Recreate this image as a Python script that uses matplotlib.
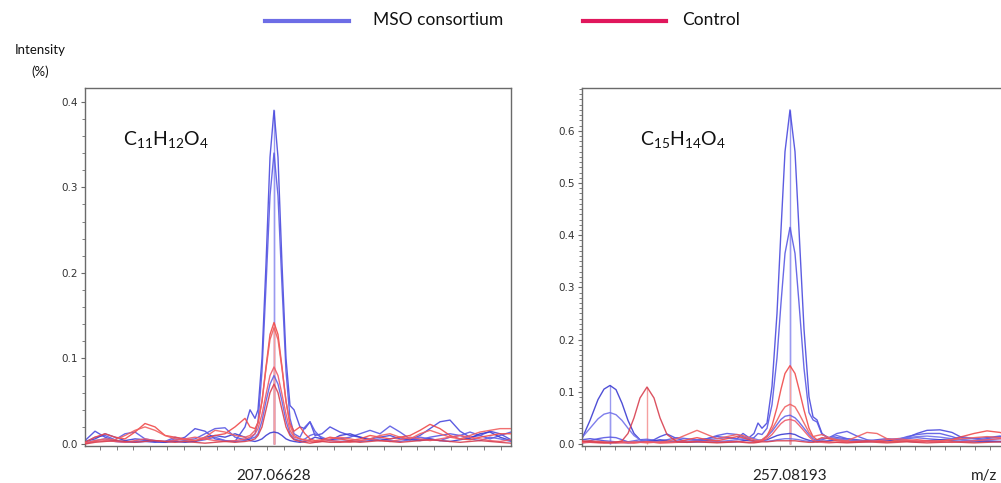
import matplotlib
matplotlib.use("Agg")
import matplotlib.pyplot as plt
from matplotlib.lines import Line2D
from matplotlib.ticker import MultipleLocator, FixedLocator, NullFormatter
import numpy as np

plt.rcParams['mathtext.default'] = 'regular'

# ---------------- data ----------------
series_names = ["MSO consortium", "Control"]
center_labels = ["207.06628", "257.08193"]
formulas = [r"C$_{11}$H$_{12}$O$_4$", r"C$_{15}$H$_{14}$O$_4$"]

# left panel (m/z axis position, arbitrary units)
X_L = [0, 10, 20, 30, 40, 50, 60, 70, 80, 90,
       100, 110, 120, 130, 140, 150, 160, 165, 170, 173,
       177, 181, 185, 189, 193, 197, 201, 205, 209, 215,
       220, 225, 230, 237, 245, 255, 265, 275, 285, 295,
       305, 315, 325, 335, 345, 355, 365, 375, 385, 395,
       405, 415, 426]

BL1 = [.004, .015, .008, .004, .003, .002, .003, .002, .003, .004,
       .008, .018, .015, .006, .004, .003, .02, .04, .03, .04,
       .1, .21, .335, .39, .335, .21, .1, .045, .04, .02,
       .018, .026, .01, .012, .02, .014, .01, .008, .006, .008,
       .01, .006, .005, .01, .018, .026, .028, .015, .008, .01,
       .015, .012, .005]
BL2 = [.002, .008, .01, .005, .012, .014, .006, .004, .003, .008,
       .005, .006, .012, .018, .019, .008, .005, .006, .012, .026,
       .085, .185, .29, .34, .29, .185, .085, .03, .012, .008,
       .02, .026, .015, .006, .005, .006, .008, .012, .016, .012,
       .021, .014, .006, .005, .008, .01, .012, .01, .014, .01,
       .006, .01, .014]
BL3 = [.001, .004, .006, .003, .002, .003, .004, .003, .002, .006,
       .004, .003, .005, .008, .004, .003, .004, .006, .008, .012,
       .027, .05, .07, .08, .07, .05, .027, .012, .006, .004,
       .006, .01, .012, .008, .004, .003, .004, .003, .004, .006,
       .004, .003, .005, .008, .006, .004, .008, .01, .006, .004,
       .008, .006, .003]
BL4 = [.003, .006, .012, .008, .004, .006, .005, .003, .002, .003,
       .002, .003, .008, .01, .008, .012, .008, .004, .003, .004,
       .006, .01, .013, .014, .013, .01, .006, .004, .003, .002,
       .003, .005, .008, .006, .004, .01, .012, .008, .005, .004,
       .006, .008, .005, .004, .006, .004, .003, .005, .007, .012,
       .014, .008, .004]
RL1 = [.002, .008, .012, .008, .006, .014, .024, .02, .01, .008,
       .006, .004, .006, .01, .012, .02, .03, .02, .018, .025,
       .05, .09, .128, .142, .128, .09, .05, .024, .015, .02,
       .012, .006, .004, .005, .008, .006, .004, .006, .01, .008,
       .006, .008, .01, .016, .023, .018, .01, .006, .005, .008,
       .01, .012, .012]
RL2 = [.001, .004, .006, .005, .01, .016, .02, .016, .01, .006,
       .005, .004, .008, .016, .014, .01, .008, .01, .016, .025,
       .05, .088, .122, .136, .122, .088, .05, .022, .01, .006,
       .005, .004, .003, .004, .006, .008, .006, .004, .006, .01,
       .012, .008, .006, .012, .016, .012, .008, .006, .01, .014,
       .016, .018, .018]
RL3 = [.001, .003, .004, .003, .002, .004, .006, .004, .003, .004,
       .006, .008, .006, .004, .003, .004, .006, .008, .012, .018,
       .035, .058, .08, .09, .08, .058, .035, .016, .008, .006,
       .004, .003, .002, .003, .004, .003, .002, .004, .006, .004,
       .003, .005, .008, .006, .004, .006, .008, .01, .008, .006,
       .004, .003, .005]
RL4 = [0, .002, .003, .004, .003, .002, .003, .004, .003, .002,
       .003, .002, .001, .002, .003, .002, .003, .004, .006, .01,
       .02, .04, .06, .07, .06, .04, .02, .01, .005, .003,
       .002, .001, .002, .003, .002, .002, .003, .002, .003, .004,
       .003, .002, .003, .004, .005, .004, .003, .002, .003, .004,
       .003, .002, .001]

# right panel
X_R = [0, 8, 16, 22, 28, 34, 40, 46, 52, 58,
       65, 72, 78, 85, 95, 105, 115, 125, 135, 145,
       155, 161, 167, 172, 176, 180, 185, 190, 195, 199,
       203, 208, 213, 217, 222, 227, 231, 235, 240, 247,
       255, 265, 275, 285, 295, 305, 315, 325, 335, 345,
       358, 370, 380, 392, 405, 418, 430]

BR1 = [.008, .01, .008, .006, .005, .004, .003, .002, .003, .004,
       .005, .008, .014, .019, .01, .005, .006, .01, .014, .012,
       .01, .02, .012, .02, .04, .03, .04, .11, .25, .41,
       .56, .64, .56, .41, .22, .09, .052, .046, .02, .01,
       .012, .01, .008, .006, .008, .01, .008, .012, .02, .026,
       .027, .022, .012, .01, .012, .015, .01]
BR2 = [.004, .006, .01, .012, .013, .012, .008, .004, .003, .004,
       .006, .005, .006, .008, .012, .01, .008, .01, .016, .02,
       .018, .014, .01, .012, .02, .018, .03, .075, .165, .27,
       .365, .415, .365, .27, .145, .06, .046, .042, .018, .012,
       .02, .024, .015, .008, .005, .006, .008, .014, .018, .02,
       .02, .014, .008, .006, .01, .014, .016]
BR3 = [.002, .004, .005, .004, .003, .002, .003, .004, .006, .008,
       .009, .007, .005, .004, .003, .004, .006, .008, .01, .012,
       .01, .008, .006, .005, .006, .008, .014, .024, .037, .047,
       .053, .055, .05, .042, .03, .018, .01, .006, .008, .012,
       .016, .01, .006, .004, .005, .006, .008, .01, .012, .01,
       .008, .01, .014, .01, .006, .005, .006]
BR4 = [.01, .045, .085, .105, .112, .104, .078, .045, .02, .008,
       .004, .006, .008, .006, .004, .003, .004, .006, .005, .004,
       .004, .006, .008, .006, .005, .006, .008, .012, .016, .018,
       .019, .02, .018, .014, .01, .007, .005, .004, .005, .006,
       .008, .006, .004, .005, .006, .007, .006, .005, .004, .006,
       .008, .006, .005, .004, .005, .004, .003]
BR5 = [.012, .03, .048, .057, .06, .056, .045, .03, .016, .008,
       .005, .004, .003, .004, .006, .005, .004, .003, .004, .006,
       .008, .01, .012, .01, .008, .006, .005, .006, .008, .009,
       .01, .01, .009, .008, .006, .005, .006, .008, .01, .012,
       .01, .008, .006, .005, .006, .008, .01, .012, .014, .015,
       .013, .01, .008, .006, .008, .01, .012]
RR1 = [.004, .006, .004, .003, .002, .003, .004, .003, .002, .003,
       .004, .003, .002, .003, .004, .008, .012, .008, .006, .01,
       .014, .012, .008, .005, .004, .006, .015, .035, .07, .105,
       .135, .15, .135, .105, .065, .03, .014, .008, .012, .01,
       .006, .004, .005, .006, .005, .004, .005, .006, .008, .006,
       .005, .008, .014, .02, .025, .022, .014]
RR2 = [.003, .004, .005, .004, .003, .002, .002, .003, .004, .003,
       .002, .003, .004, .005, .01, .018, .026, .018, .01, .014,
       .018, .016, .012, .008, .006, .008, .016, .028, .045, .06,
       .071, .076, .071, .058, .04, .022, .014, .016, .018, .012,
       .008, .006, .014, .022, .02, .01, .006, .005, .004, .005,
       .006, .008, .01, .012, .014, .012, .01]
RR3 = [.002, .003, .002, .002, .003, .004, .003, .002, .002, .003,
       .004, .003, .002, .002, .003, .004, .005, .004, .003, .004,
       .005, .004, .003, .003, .004, .006, .01, .018, .03, .039,
       .045, .047, .044, .036, .025, .014, .007, .004, .003, .002,
       .003, .004, .003, .004, .006, .008, .01, .008, .006, .005,
       .004, .003, .004, .006, .008, .01, .008]
RR4 = [.006, .004, .003, .002, .002, .003, .006, .02, .05, .088,
       .109, .088, .05, .018, .004, .003, .004, .003, .002, .003,
       .004, .003, .002, .002, .003, .004, .004, .005, .006, .006,
       .006, .006, .006, .005, .004, .003, .003, .004, .005, .004,
       .003, .002, .003, .004, .003, .002, .003, .004, .003, .002,
       .003, .004, .003, .002, .003, .004, .003]

# ---------------- styling ----------------
BLUES = ["#4a4ade", "#5a5ae4", "#6262e6", "#3c3cd2", "#7070ea"]
REDS = ["#f04a4a", "#f06060", "#ee5a6a", "#d84050"]
LEGEND_BLUE = "#6d6de6"
LEGEND_RED = "#e0175c"
SPINE = "#6a6a6a"
FONT = ["Lato", "DejaVu Sans"]

W, H = 1001, 483
fig = plt.figure(figsize=(W / 100, H / 100), dpi=100)


def px_axes(x0, y0, x1, y1):
    return fig.add_axes([x0 / W, 1 - y1 / H, (x1 - x0) / W, (y1 - y0) / H])


panels = [
    dict(ax=px_axes(85, 88, 511, 446), X=X_L,
         blues=[BL1, BL2, BL3, BL4], reds=[RL1, RL2, RL3, RL4],
         ylim=(-0.0023, 0.416), ymajor=0.1, yminor=0.02,
         xticks=np.arange(15, 426, 16.7), center=189,
         ftxt=(0.089, 0.855)),
    dict(ax=px_axes(582, 88, 1012, 446), X=X_R,
         blues=[BR1, BR2, BR3, BR4, BR5], reds=[RR1, RR2, RR3, RR4],
         ylim=(-0.004, 0.682), ymajor=0.1, yminor=0.01,
         xticks=np.arange(3, 431, 15), center=208,
         ftxt=(0.135, 0.855)),
]

for i, p in enumerate(panels):
    ax = p['ax']
    X = np.array(p['X'])
    # stick lines at each trace's maximum
    for ys, cols, sc in ((p['blues'], BLUES, "#9a9af0"), (p['reds'], REDS, "#f5a0a0")):
        for y in ys:
            y = np.array(y)
            k = int(np.argmax(y))
            ax.vlines(X[k], 0, y[k], color=sc, lw=1.0, zorder=1)
    for j, y in enumerate(p['blues']):
        ax.plot(X, y, color=BLUES[j % len(BLUES)], lw=1.0, alpha=0.9, zorder=2)
    for j, y in enumerate(p['reds']):
        ax.plot(X, y, color=REDS[j % len(REDS)], lw=1.0, alpha=0.9, zorder=3)

    ax.set_xlim(0, X[-1])
    ax.set_ylim(*p['ylim'])
    ax.yaxis.set_major_locator(MultipleLocator(p['ymajor']))
    ax.yaxis.set_minor_locator(MultipleLocator(p['yminor']))
    ax.yaxis.set_major_formatter(plt.FuncFormatter(lambda v, pos: f"{v:.1f}"))
    ax.xaxis.set_major_locator(FixedLocator([]))
    ax.xaxis.set_minor_locator(FixedLocator(p['xticks']))
    ax.xaxis.set_minor_formatter(NullFormatter())
    ax.tick_params(axis='y', which='major', length=3, width=0.8, color=SPINE,
                   labelsize=7.5, labelcolor="#333333", pad=2)
    ax.tick_params(axis='y', which='minor', length=2, width=0.6, color=SPINE)
    ax.tick_params(axis='x', which='minor', length=3, width=0.6, color=SPINE)
    for s in ax.spines.values():
        s.set_color(SPINE)
        s.set_linewidth(1.0)
    ax.text(*p['ftxt'], formulas[i], transform=ax.transAxes, fontsize=14,
            family=FONT, ha='left', va='center', color="#111111")
    ax.text(p['center'], -0.085, center_labels[i],
            transform=ax.get_xaxis_transform(), ha='center', va='center',
            fontsize=11, family=FONT, color="#222222")

# m/z label, kept fully inside the figure
fig.text(997 / W, 1 - 476 / H, "m/z", fontsize=11, family=FONT,
         ha='right', va='center', color="#222222")

# y axis title
fig.text(40 / W, 1 - 50 / H, "Intensity", fontsize=9.5, family=FONT,
         ha='center', va='center', color="#111111")
fig.text(40 / W, 1 - 72 / H, "(%)", fontsize=9.5, family=FONT,
         ha='center', va='center', color="#111111")

# legend drawn in figure coordinates
yl = 1 - 21 / H
fig.add_artist(Line2D([265 / W, 349 / W], [yl, yl], color=LEGEND_BLUE, lw=3,
                      transform=fig.transFigure))
fig.text(373 / W, 1 - 20 / H, series_names[0], fontsize=12.5, family=FONT,
         ha='left', va='center', color="#111111")
fig.add_artist(Line2D([583 / W, 666 / W], [yl, yl], color=LEGEND_RED, lw=3,
                      transform=fig.transFigure))
fig.text(682 / W, 1 - 20 / H, series_names[1], fontsize=12.5, family=FONT,
         ha='left', va='center', color="#111111")

fig.savefig("out.png", dpi=100)
